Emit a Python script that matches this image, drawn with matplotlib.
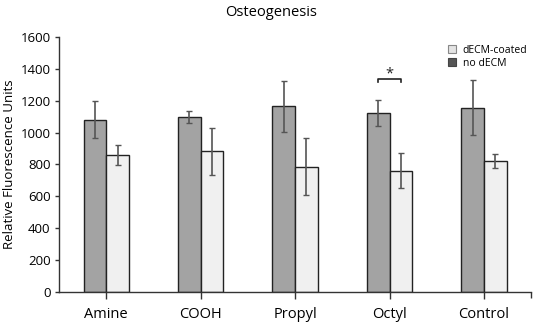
import numpy as np
import matplotlib
matplotlib.use('Agg')
import matplotlib.pyplot as plt
from matplotlib.patches import Patch

plt.rcParams['font.family'] = ['Open Sans', 'DejaVu Sans']

categories = ['Amine', 'COOH', 'Propyl', 'Octyl', 'Control']
no_decm = [1082, 1098, 1165, 1124, 1157]
no_decm_err = [115, 40, 160, 82, 173]
decm = [862, 884, 787, 762, 822]
decm_err = [63, 147, 181, 112, 45]

CLR_DARK = '#a3a3a3'
CLR_LIGHT = '#f0f0f0'
CLR_EDGE = '#222222'
CLR_ERR = '#555555'

fig = plt.figure(figsize=(5.36, 3.27), dpi=100)
ax = fig.add_axes([0.110, 0.107, 0.881, 0.780])

x = np.arange(len(categories))
w = 0.24
ax.bar(x - w / 2, no_decm, w, color=CLR_DARK, edgecolor=CLR_EDGE, lw=1.0,
       yerr=no_decm_err, error_kw=dict(ecolor=CLR_ERR, elinewidth=1.2, capsize=2.5, capthick=1.0))
ax.bar(x + w / 2, decm, w, color=CLR_LIGHT, edgecolor=CLR_EDGE, lw=1.0,
       yerr=decm_err, error_kw=dict(ecolor=CLR_ERR, elinewidth=1.2, capsize=2.5, capthick=1.0))

# significance bracket over Octyl
i = categories.index('Octyl')
ax.plot([i - w / 2, i - w / 2, i + w / 2, i + w / 2], [1318, 1338, 1338, 1318],
        color=CLR_EDGE, lw=1.2)
ax.text(i, 1365, '*', ha='center', va='center', fontsize=10.5, color=CLR_EDGE)

ax.set_xlim(-0.5, len(categories) - 0.5)
ax.set_ylim(0, 1600)
ax.set_yticks(range(0, 1601, 200))
ax.set_xticks(x)
ax.set_xticklabels(categories, fontsize=10.5)
ax.tick_params(axis='x', length=5, width=1, color='#333333', pad=6)
ax.tick_params(axis='y', length=3, width=1, color='#333333', labelsize=9.5, pad=3)
ax.set_xticks([len(categories) - 0.5], minor=True)
ax.tick_params(axis='x', which='minor', length=4, width=1, color='#333333')
for s in ['top', 'right']:
    ax.spines[s].set_visible(False)
for s in ['left', 'bottom']:
    ax.spines[s].set_color('#333333')
    ax.spines[s].set_linewidth(1.0)

ax.set_ylabel('Relative Fluorescence Units', fontsize=9.5, labelpad=3)
fig.text(0.505, 0.962, 'Osteogenesis', ha='center', va='center', fontsize=10.5)

handles = [Patch(facecolor='#e4e4e4', edgecolor='#888888', lw=0.8, label='dECM-coated'),
           Patch(facecolor='#555555', edgecolor='#444444', lw=0.8, label='no dECM')]
ax.legend(handles=handles, loc='upper left', bbox_to_anchor=(0.815, 0.985), frameon=False,
          fontsize=7.5, handlelength=0.8, handleheight=0.8, handletextpad=0.6,
          labelspacing=0.15, borderaxespad=0)

fig.savefig('out.png', dpi=100)
